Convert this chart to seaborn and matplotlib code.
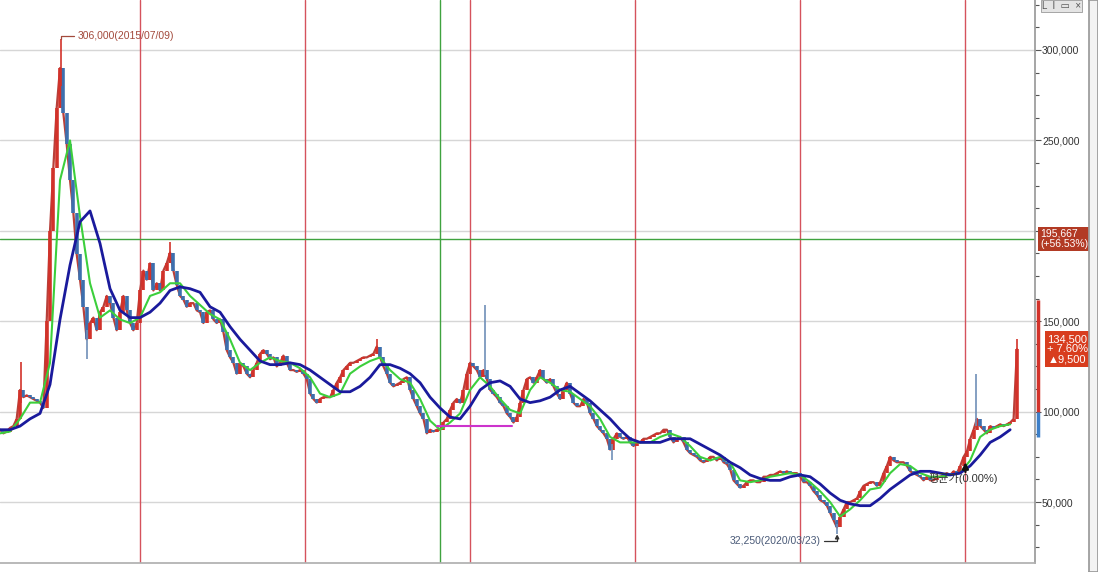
import numpy as np
import pandas as pd
import seaborn as sns
import matplotlib.pyplot as plt
import matplotlib.transforms as mtransforms
from matplotlib.ticker import FuncFormatter, MultipleLocator

close = [
    90, 88, 89, 91, 92, 96, 112, 108, 109, 108, 107, 106, 105, 102, 150, 200,
    235, 268, 290, 265, 248, 228, 210, 187, 173, 158, 140, 149, 152, 145, 155, 158,
    164, 160, 152, 145, 155, 164, 156, 149, 145, 149, 167, 178, 173, 182, 167, 171,
    167, 178, 182, 188, 178, 170, 164, 162, 158, 160, 160, 156, 155, 149, 155, 156,
    151, 149, 151, 144, 134, 130, 127, 121, 127, 125, 121, 119, 123, 127, 132, 134,
    132, 129, 130, 125, 127, 131, 127, 123, 123, 122, 123, 121, 118, 110, 107, 105,
    107, 108, 108, 108, 112, 116, 119, 123, 125, 127, 127, 128, 129, 130, 130, 131,
    132, 136, 130, 125, 121, 116, 114, 115, 116, 118, 119, 112, 107, 103, 99, 96,
    88, 90, 89, 90, 90, 94, 96, 101, 105, 107, 105, 112, 121, 127, 125, 123,
    119, 123, 118, 112, 110, 108, 105, 103, 99, 97, 94, 97, 105, 112, 118, 119,
    116, 119, 123, 118, 116, 118, 114, 110, 107, 112, 116, 110, 105, 103, 103, 107,
    105, 99, 96, 92, 90, 88, 85, 79, 85, 88, 86, 85, 86, 83, 81, 83,
    83, 85, 85, 86, 87, 88, 88, 90, 90, 86, 83, 85, 86, 83, 79, 77,
    76, 75, 73, 72, 73, 75, 75, 73, 75, 72, 71, 68, 62, 60, 58, 59,
    61, 62, 62, 61, 61, 64, 64, 65, 65, 66, 67, 66, 67, 66, 66, 66,
    64, 61, 61, 59, 56, 54, 51, 50, 48, 44, 40, 36, 42, 46, 50, 50,
    51, 52, 56, 59, 60, 61, 61, 59, 61, 66, 70, 75, 73, 72, 72, 72,
    70, 67, 66, 65, 64, 62, 64, 62, 62, 64, 64, 65, 66, 65, 67, 66,
    70, 75, 78, 85, 90, 96, 92, 90, 88, 92, 91, 92, 93, 92, 93, 94,
    96, 134.5,
]

# blue long moving average
ma_long = [
    90, 90, 92, 96, 99, 115, 151, 181, 205, 211, 193, 168, 156, 152, 152, 155,
    160, 167, 169, 168, 166, 158, 155, 147, 140, 134, 128, 126, 126, 127, 126, 123,
    119, 115, 111, 111, 114, 119, 126, 126, 124, 121, 116, 108, 102, 97, 96, 103,
    112, 116, 117, 114, 107, 105, 106, 108, 112, 114, 110, 106, 101, 96, 90, 85,
    83, 83, 83, 85, 85, 85, 82, 79, 76, 72, 69, 65, 63, 62, 62, 64,
    65, 64, 60, 55, 51, 49, 48, 48, 52, 57, 61, 65, 67, 67, 66, 65,
    66, 70, 76, 83, 86, 90,
]

# green short moving average
ma_short = [
    88, 89, 96, 105, 105, 127, 228, 250, 208, 171, 152, 156, 151, 149, 152, 164,
    166, 171, 171, 164, 159, 154, 151, 140, 127, 123, 127, 130, 128, 127, 124, 119,
    110, 108, 110, 121, 125, 128, 130, 123, 118, 116, 107, 95, 90, 94, 99, 112,
    119, 114, 107, 101, 99, 112, 119, 116, 112, 111, 107, 103, 96, 86, 83, 83,
    83, 83, 86, 88, 86, 81, 75, 73, 75, 72, 62, 61, 62, 64, 65, 66,
    65, 61, 56, 50, 42, 46, 51, 57, 58, 66, 71, 70, 66, 64, 64, 65,
    66, 73, 86, 90, 92, 93,
]

# intraday extremes that stick out of the close line
wick_dates = ["2015-04-12", "2015-07-09", "2015-09-05", "2016-03-07", "2017-06-08",
              "2018-02-02", "2018-11-10", "2020-03-23", "2021-01-25", "2021-04-25"]
wick_low = [105, 280, 129, 185, 132, 120, 73, 32.25, 92, 125]
wick_high = [127.5, 306, 145, 194, 140, 159, 82, 38, 121, 140]
wick_up = [True, True, False, True, True, False, False, False, False, True]

year_lines = ["2016-01-01", "2017-01-01", "2018-01-01", "2019-01-01",
              "2020-01-01", "2021-01-01"]
cross_date, cross_price = "2017-10-26", 195667
support_start, support_end, support_price = "2017-10-19", "2018-04-03", 92000
buy_date, buy_price = "2021-01-01", 72000

close = np.array(close) * 1000
ma_long = np.array(ma_long) * 1000
ma_short = np.array(ma_short) * 1000
wick_low = np.array(wick_low) * 1000
wick_high = np.array(wick_high) * 1000

dates = pd.date_range("2015-02-25", "2021-04-25", periods=len(close))
ma_dates = pd.date_range("2015-02-25", "2021-04-10", periods=len(ma_long))

UP, DOWN = "#d2322a", "#3d6fae"

sns.set_theme(style="white")
plt.rcParams["font.family"] = ["Liberation Sans", "Noto Sans CJK KR", "DejaVu Sans"]

fig = plt.figure(figsize=(10.98, 5.72), dpi=100)
ax = fig.add_axes([0, 9 / 572, 1035 / 1098, 563 / 572])

for v in range(50000, 300001, 50000):
    ax.axhline(v, color="#d6d6d6", lw=1, zorder=0)
for d in year_lines:
    ax.axvline(pd.Timestamp(d), color="#d5525c", lw=1, zorder=1)
ax.axvline(pd.Timestamp(cross_date), color="#3fa33f", lw=1, zorder=1)
ax.axhline(cross_price, color="#3fa33f", lw=1, zorder=1)

# candles: body from previous close to close
prev = np.r_[close[0], close[:-1]]
colors = np.where(close >= prev, UP, DOWN)
sns.lineplot(x=dates, y=close, color="#b8403a", lw=1.6, ax=ax, zorder=3)
ax.vlines(dates, prev, close, colors=colors, lw=2.6, zorder=3)
ax.vlines(pd.to_datetime(wick_dates), wick_low, wick_high,
          colors=[UP if u else "#6f8fb8" for u in wick_up], lw=1.2, zorder=3)

sns.lineplot(x=ma_dates, y=ma_short, color="#3ccf3c", lw=1.5, ax=ax, zorder=4)
sns.lineplot(x=ma_dates, y=ma_long, color="#1a1a9c", lw=2.0, ax=ax, zorder=5)

ax.plot(pd.to_datetime([support_start, support_end]), [support_price] * 2,
        color="#cc33cc", lw=1.5, zorder=6)

ax.set_xlim(pd.Timestamp("2015-02-25"), pd.Timestamp("2021-06-04"))
ax.set_ylim(16300, 327650)
ax.set_xticks([])
ax.set_xlabel("")
ax.set_ylabel("")
ax.yaxis.tick_right()
ax.yaxis.set_major_locator(MultipleLocator(50000))
ax.yaxis.set_minor_locator(MultipleLocator(12500))
# the 200,000 label sits under the crosshair price tag
ax.yaxis.set_major_formatter(FuncFormatter(lambda v, p: "" if v == 200000 else f"{v:,.0f}"))
ax.tick_params(axis="y", which="major", right=True, length=4, width=0.8,
               color="#555555", labelsize=7.5, labelcolor="#333333", pad=1)
ax.tick_params(axis="y", which="minor", right=True, length=3, width=0.8, color="#555555")
for s in ["left", "top"]:
    ax.spines[s].set_visible(False)
ax.spines["right"].set_color("#9a9a9a")
ax.spines["bottom"].set_color("#b0b0b0")

# annotations for high / low
ann_col = "#a34a3c"
peak_i = int(np.argmax(wick_high))
ax.annotate("306,000(2015/07/09)", xy=(pd.Timestamp(wick_dates[peak_i]), wick_high[peak_i]),
            xytext=(12, 2.5), textcoords="offset points", va="center", ha="left",
            fontsize=7.5, color=ann_col,
            arrowprops=dict(arrowstyle="-", color=ann_col, lw=0.9, shrinkA=0, shrinkB=0,
                            connectionstyle="angle,angleA=0,angleB=90,rad=0"))
low_i = int(np.argmin(wick_low))
ax.annotate("32,250(2020/03/23)", xy=(pd.Timestamp(wick_dates[low_i]), wick_low[low_i]),
            xytext=(-12, -5), textcoords="offset points", va="center", ha="right",
            fontsize=7.5, color="#4a5a78",
            arrowprops=dict(arrowstyle="-|>", mutation_scale=6, color="#333333", lw=0.9,
                            shrinkA=0, shrinkB=0,
                            connectionstyle="angle,angleA=0,angleB=90,rad=0"))
ax.annotate("", xy=(pd.Timestamp(buy_date), buy_price), xytext=(0, -7),
            textcoords="offset points",
            arrowprops=dict(arrowstyle="-|>", mutation_scale=9, color="#111111", lw=1.6,
                            shrinkA=0, shrinkB=0), zorder=7)
ax.annotate("평균가(0.00%)", xy=(pd.Timestamp(buy_date), buy_price), xytext=(-27, -12),
            textcoords="offset points", ha="left", va="center", fontsize=8,
            color="#333333", zorder=9)

# right price tags
blend = mtransforms.blended_transform_factory(ax.transAxes, ax.transData)
ax.plot([1.003, 1.003], [100000, 162000], transform=blend, color="#d2322a", lw=2.5,
        clip_on=False, solid_capstyle="butt")
ax.plot([1.003, 1.003], [86000, 100000], transform=blend, color="#3d7fc8", lw=2.5,
        clip_on=False, solid_capstyle="butt")
ax.text(1.005, cross_price, f"{cross_price:,}\n(+56.53%)", transform=blend,
        ha="left", va="center", fontsize=7.5, color="white", linespacing=1.0, zorder=10,
        bbox=dict(boxstyle="square,pad=0.2", fc="#b23a24", ec="none"), clip_on=False)
last = close[-1]
ax.text(1.012, last, f"{last:,.0f}\n+ 7.60%\n▲9,500", transform=blend,
        ha="left", va="center", fontsize=8, color="white", linespacing=1.0, zorder=10,
        bbox=dict(boxstyle="square,pad=0.25", fc="#d83d1e", ec="none"), clip_on=False)

# side toolbar strip and window buttons
tb = fig.add_axes([1089 / 1098, 0, 9 / 1098, 1])
tb.set_facecolor("#f3f3f3")
tb.set_xticks([])
tb.set_yticks([])
for s in tb.spines.values():
    s.set_color("#9a9a9a")
fig.text(1042 / 1098, 1 - 6 / 572, "L  I  ▭  ×", fontsize=7, color="#555555",
         va="center", ha="left",
         bbox=dict(boxstyle="square,pad=0.1", fc="#e4e4e4", ec="#999999", lw=0.6))

fig.savefig("out.png", dpi=100)
